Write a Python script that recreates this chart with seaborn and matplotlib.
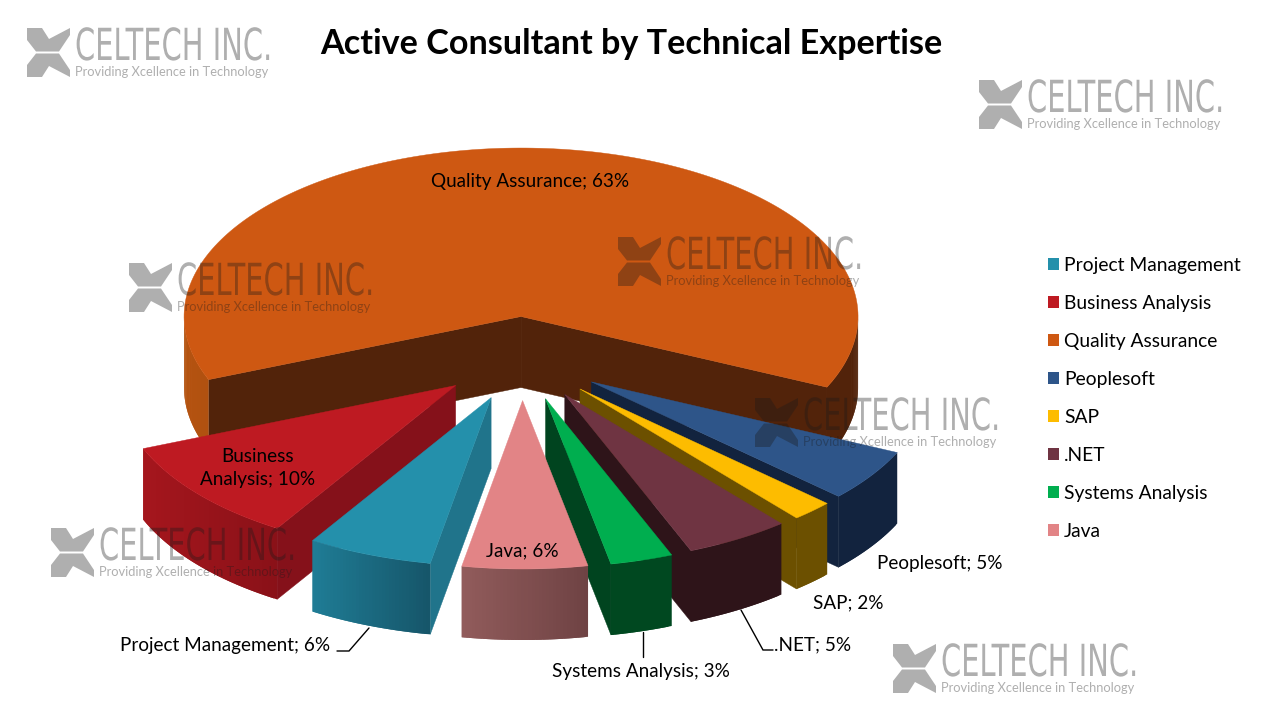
import numpy as np
import matplotlib
matplotlib.use("Agg")
import matplotlib.pyplot as plt
import seaborn as sns
from matplotlib.collections import PolyCollection
from matplotlib.patches import Patch, Polygon
from matplotlib.patheffects import AbstractPathEffect
from matplotlib.transforms import Affine2D

# ---- data ----
categories = ["Project Management", "Business Analysis", "Quality Assurance", "Peoplesoft",
              "SAP", ".NET", "Systems Analysis", "Java"]
values = [6, 10, 63, 5, 2, 5, 3, 6]
label_texts = ["Project Management; 6%", "Business\nAnalysis; 10%", "Quality Assurance; 63%",
               "Peoplesoft; 5%", "SAP; 2%", ".NET; 5%", "Systems Analysis; 3%", "Java; 6%"]
title_text = "Active Consultant by Technical Expertise"
brand_name = "CELTECH INC."
brand_tag = "Providing Xcellence in Technology"

# ---- style ----
top_colors = ["#2490AB", "#BE1A22", "#CE5812", "#2E5589", "#FDBC00", "#6F3442", "#00AE4F", "#E28486"]
side_colors = ["#20748B", "#85111A", "#52230A", "#12233E", "#6C5000", "#2E1419", "#00441F", "#6F4344"]
wall_light = ["#1F7C95", "#A5161D", "#B55310", "#12233E", "#6C5000", "#2E1419", "#004820", "#915B5B"]
wall_dark = ["#16566A", "#8A1118", "#52230A", "#12233E", "#6C5000", "#2E1419", "#004820", "#6F4344"]
wall_span = [None, None, 500, None, None, None, None, None]
slice_nudge = [2.5, 1, 0, 2.5, 3, 2.5, 2.5, 3]
label_pos = [(225, 646), (258, 468), (530, 181), (940, 564), (848, 603), (813, 645), (641, 672), (522, 551)]
leaders = [[(337, 651), (349, 651), (369, 628)],
           [(643, 632), (643, 657)],
           [(741, 610), (763, 650), (773, 650)]]
logo_spots = [(27, 28), (979, 80), (129, 263), (618, 237), (755, 398), (51, 528), (893, 644)]
CX, CY, R, SQUASH, EXPLODE, DEPTH = 519, 358.5, 337, 0.5, 84, 71
START = 190.4  # clock angle of the first slice

sns.set_theme(style="white")
plt.rcParams["font.family"] = ["Lato", "DejaVu Sans"]

fig = plt.figure(figsize=(12.64, 7.26), dpi=100)
ax = fig.add_axes([0, 0, 1, 1])
ax.set_xlim(0, 1264)
ax.set_ylim(726, 0)
ax.axis("off")


def pt(c, theta, r):
    t = np.radians(theta)
    return np.array([c[0] + r * np.sin(t), c[1] - SQUASH * r * np.cos(t)])


spans = np.array(values) / sum(values) * 360
starts = START + np.concatenate([[0], np.cumsum(spans)[:-1]])
mids = starts + spans / 2
# back to front
order = sorted(range(len(values)), key=lambda i: -np.cos(np.radians(mids[i])))


def mix(a, b, t):
    a, b = np.array(matplotlib.colors.to_rgb(a)), np.array(matplotlib.colors.to_rgb(b))
    return tuple(a + (b - a) * t)


z = 2
down = np.array([0, DEPTH])
for i in order:
    a0, a1 = starts[i], starts[i] + spans[i]
    c = pt((CX + slice_nudge[i], CY), mids[i], EXPLODE)
    # radial walls
    for ang, normal in ((a0, a0 - 90), (a1, a1 + 90)):
        if np.cos(np.radians(normal)) < 0:
            p = pt(c, ang, R)
            ax.add_patch(Polygon([c, p, p + down, c + down], closed=True, fc=side_colors[i],
                                 ec=side_colors[i], lw=0.3, zorder=z))
    # outer wall: overlapping strips, so that no seams show
    th = np.linspace(a0, a1, max(int(spans[i] / 0.6), 2) + 1)
    step = th[1] - th[0]
    quads, xs = [], []
    for t0, t1 in zip(th[:-1], th[1:]):
        if np.cos(np.radians((t0 + t1) / 2)) < 0:
            t2 = min(t1 + step, a1)
            arc = [pt(c, t, R) for t in (t0, (t0 + t2) / 2, t2)]
            quads.append(arc + [a + down for a in arc[::-1]])
            xs.append((pt(c, t0, R)[0] + pt(c, t1, R)[0]) / 2)
    if quads:
        xs = np.array(xs)
        width = wall_span[i] or max(xs.max() - xs.min(), 1)
        ts = np.clip((xs - xs.min()) / width, 0, 1)
        cols = [mix(wall_light[i], wall_dark[i], t) for t in ts]
        ax.add_collection(PolyCollection(quads, facecolors=cols, edgecolors="none", zorder=z))
    # top face
    arc = [pt(c, t, R) for t in np.linspace(a0, a1, 200)]
    ax.add_patch(Polygon([c] + arc, closed=True, fc=top_colors[i], ec=top_colors[i], lw=0.3, zorder=z + 0.5))
    z += 1


# ---- watermarks ----
class Stretch(AbstractPathEffect):
    """Squeezes or stretches a text about its anchor."""
    def __init__(self, x0, y0, sx, sy):
        super().__init__()
        self.m = Affine2D().translate(-x0, -y0).scale(sx, sy).translate(x0, y0)

    def draw_path(self, renderer, gc, tpath, affine, rgbFace=None):
        renderer.draw_path(gc, tpath, affine + self.m, rgbFace)


INK, ALPHA = "#1A1A1A", 0.35
upper = [(0, 0), (15, 0), (22, 11), (43, 0), (43, 7), (32, 23.5), (9, 23.5), (0, 12)]
for (lx, ly) in logo_spots:
    ax.add_patch(Polygon([(lx + u, ly + v) for u, v in upper], fc=INK, ec="none", alpha=ALPHA, zorder=30))
    ax.add_patch(Polygon([(lx + u, ly + 49 - v) for u, v in upper], fc=INK, ec="none", alpha=ALPHA, zorder=30))
    dx, dy = ax.transData.transform((lx + 48, ly + 32))
    ax.text(lx + 48, ly + 32, brand_name, family=["Liberation Sans Narrow", "DejaVu Sans"], fontsize=24.5,
            color=INK, alpha=ALPHA, va="baseline", ha="left", zorder=31,
            path_effects=[Stretch(dx, dy, 0.85, 1.3)])
    ax.text(lx + 48, ly + 44, brand_tag, fontsize=9.3, color=INK, alpha=ALPHA, va="center", ha="left", zorder=31)

# ---- texts ----
ax.text(631, 43.5, title_text, fontsize=24.6, fontweight="bold", color="black", ha="center", va="center", zorder=40)
for txt, (x, y) in zip(label_texts, label_pos):
    ax.text(x, y, txt, fontsize=13.55, color="black", ha="center", va="center", linespacing=1.45, zorder=40)
for line in leaders:
    ax.plot(*zip(*line), color="black", lw=1.0, zorder=40, solid_joinstyle="miter")

palette = sns.color_palette(top_colors)
handles = [Patch(fc=col, ec="none", label=name) for col, name in zip(palette, categories)]
ax.legend(handles=handles, loc="upper left", bbox_to_anchor=(1048, 257), bbox_transform=ax.transData,
          frameon=False, fontsize=13.85, handlelength=0.58, handleheight=0.58, handletextpad=0.26,
          labelspacing=1.09, borderpad=0, borderaxespad=0, labelcolor="black")

fig.savefig("out.png", dpi=100, facecolor="white")
